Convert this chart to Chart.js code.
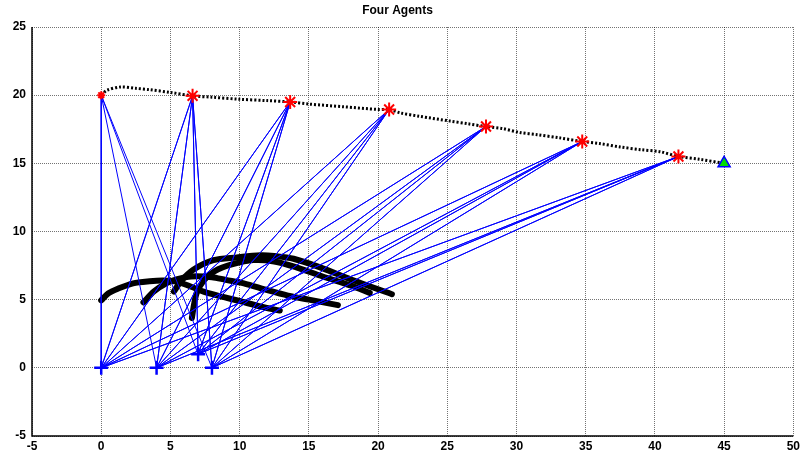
<!DOCTYPE html>
<html>
<head>
<meta charset="utf-8">
<script src="https://cdn.jsdelivr.net/npm/chart.js@4/dist/chart.umd.min.js"></script>
<style>
html,body{margin:0;padding:0;background:#fff;}
#wrap{width:803px;height:459px;position:relative;}
</style>
</head>
<body>
<div id="wrap"><canvas id="c" width="803" height="459"></canvas></div>
<script>
// ---- data ----
const chartTitle = "Four Agents";
const xTickMin = -5, xTickMax = 50, xTickStep = 5;
const yTickMin = -5, yTickMax = 25, yTickStep = 5;

// target path (black dotted)
const pathX = [0,0.4,1.4,2.5,3.5,5,6.6,8,10,12,13.65,15,17.5,20,20.8,21.6,23,25.2,26.5,27.8,29,30.25,31.5,33.1,34.75,36,37.5,39,40.4,41.7,43.2,45];
const pathY = [20,20.35,20.6,20.5,20.4,20.2,19.95,19.85,19.7,19.6,19.5,19.35,19.15,18.95,18.95,18.7,18.45,18.1,17.9,17.7,17.55,17.26,17.1,16.87,16.6,16.45,16.2,16.0,15.85,15.5,15.3,15.0];

// sampled positions (red asterisks)
const starX = [0, 6.6, 13.65, 20.8, 27.8, 34.75, 41.7];
const starY = [20, 19.95, 19.5, 18.95, 17.7, 16.6, 15.5];

// final position (green triangle)
const goalX = [45];
const goalY = [15];

// agents (blue plus)
const agentX = [0, 4, 7, 8];
const agentY = [0, 0, 1, 0];

// thick black curves
const c1X = [0,0.5,1.2,2.3,3.5,4.5,5.5,6.5,7.5,8.8,10,11.5,12.9];
const c1Y = [4.95,5.45,5.8,6.2,6.35,6.4,6.3,5.95,5.55,5.2,4.9,4.5,4.2];
const c2X = [3.05,3.8,4.7,5.5,6.5,8,9,10.3,12,13.5,15,17.1];
const c2Y = [4.8,5.6,6.2,6.5,6.7,6.65,6.45,6.2,5.7,5.3,5.0,4.6];
const c3X = [6.55,6.7,6.9,7.4,8.2,9.5,11,12.5,14,16,18,19.4];
const c3Y = [3.65,4.6,5.5,6.4,7.1,7.6,7.9,7.8,7.4,6.7,6.05,5.5];
const c4X = [5.25,5.8,6.65,8.1,9.8,11.5,12.5,13.9,16,18,21];
const c4Y = [5.6,6.4,7.2,7.9,8.1,8.25,8.2,8.0,7.3,6.5,5.4];

// ---- build datasets ----
const pts = (xs, ys) => xs.map((x, i) => ({x: x, y: ys[i]}));
const datasets = [];

[[c1X,c1Y],[c2X,c2Y],[c3X,c3Y],[c4X,c4Y]].forEach(([xs, ys]) => {
  datasets.push({
    data: pts(xs, ys), showLine: true, borderColor: '#000', borderWidth: 6,
    pointRadius: 0, borderCapStyle: 'round', borderJoinStyle: 'round',
    tension: 0.3, order: 10
  });
});

// blue connection lines: each agent to every asterisk
agentX.forEach((ax, a) => {
  const d = [];
  starX.forEach((sx, s) => {
    d.push({x: sx, y: starY[s]});
    d.push({x: ax, y: agentY[a]});
  });
  datasets.push({
    data: d, showLine: true, borderColor: '#0000ff', borderWidth: 1,
    pointRadius: 0, tension: 0, order: 8
  });
});

datasets.push({
  data: pts(pathX, pathY), showLine: true, borderColor: '#000', borderWidth: 3,
  borderDash: [2, 2], pointRadius: 0, tension: 0.3, order: 6
});

datasets.push({
  data: pts(agentX, agentY), showLine: false, pointStyle: 'cross',
  pointRadius: 7, pointBorderColor: '#0000ff', pointBorderWidth: 2.5, order: 4
});

datasets.push({
  data: pts(starX, starY), showLine: false, pointStyle: 'star',
  pointRadius: starX.map((v, i) => i === 0 ? 4 : 7),
  pointBorderColor: '#ff0000', pointBorderWidth: 2, order: 2
});

datasets.push({
  data: pts(goalX, goalY), showLine: false, pointStyle: 'triangle',
  pointRadius: 7, pointBackgroundColor: '#00dd00', pointBorderColor: '#0000ff',
  pointBorderWidth: 1.5, order: 1
});

const tickFont = {family: 'Arial, "Liberation Sans", sans-serif', size: 12, weight: 'bold'};

// solid black axis lines on left and bottom
const axisLines = {
  id: 'axisLines',
  afterDatasetsDraw(chart) {
    const {ctx, chartArea: a} = chart;
    ctx.save();
    ctx.setLineDash([]);
    ctx.strokeStyle = '#000';
    ctx.lineWidth = 1.5;
    ctx.beginPath();
    ctx.moveTo(a.left, a.top);
    ctx.lineTo(a.left, a.bottom);
    ctx.lineTo(a.right, a.bottom);
    ctx.stroke();
    ctx.restore();
  }
};

new Chart(document.getElementById('c'), {
  type: 'scatter',
  data: {datasets: datasets},
  options: {
    responsive: false,
    animation: false,
    events: [],
    layout: {padding: {top: 0, right: 8, left: 0, bottom: 0}},
    plugins: {
      legend: {display: false},
      tooltip: {enabled: false},
      title: {
        display: true, text: chartTitle, color: '#000',
        font: {family: 'Arial, "Liberation Sans", sans-serif', size: 12, weight: 'bold'},
        padding: {top: 3, bottom: 9.6}
      }
    },
    scales: {
      x: {
        type: 'linear', min: xTickMin, max: xTickMax,
        ticks: {stepSize: xTickStep, color: '#000', font: tickFont, padding: 3, maxRotation: 0},
        grid: {color: 'rgba(0,0,0,0.55)', lineWidth: 1, drawTicks: false},
        border: {display: false, dash: [1, 1]},
        afterFit: s => { s.height = 23; }
      },
      y: {
        type: 'linear', min: yTickMin, max: yTickMax,
        ticks: {stepSize: yTickStep, color: '#000', font: tickFont, padding: 6},
        grid: {color: 'rgba(0,0,0,0.55)', lineWidth: 1, drawTicks: false},
        border: {display: false, dash: [1, 1]},
        afterFit: s => { s.width = 32; }
      }
    }
  },
  plugins: [axisLines]
});
</script>
</body>
</html>
